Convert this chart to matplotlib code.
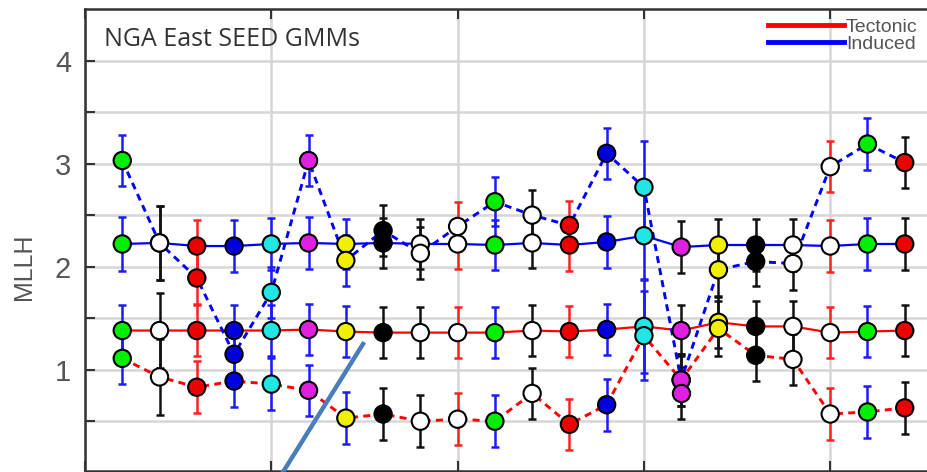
import numpy as np
import matplotlib
matplotlib.use('Agg')
import matplotlib.pyplot as plt
from matplotlib.lines import Line2D

# model index along the x axis
x = np.arange(1, 23)

# marker face colour and error bar colour of each model
face = ['g', 'w', 'r', 'b', 'c', 'm', 'y', 'k', 'w', 'w', 'g',
        'w', 'r', 'b', 'c', 'm', 'y', 'k', 'w', 'w', 'g', 'r']
ecol = ['b', 'k', 'r', 'b', 'b', 'b', 'b', 'k', 'k', 'r', 'b',
        'k', 'r', 'b', 'b', 'k', 'k', 'k', 'k', 'r', 'b', 'k']

# MLLH values (solid = mean, dashed = alternative)
tect_mean = [1.38, 1.38, 1.38, 1.38, 1.38, 1.39, 1.37, 1.36, 1.36, 1.36, 1.36,
             1.38, 1.37, 1.39, 1.42, 1.38, 1.46, 1.42, 1.42, 1.36, 1.37, 1.38]
ind_mean = [2.22, 2.23, 2.20, 2.20, 2.22, 2.23, 2.22, 2.23, 2.22, 2.22, 2.21,
            2.23, 2.21, 2.24, 2.30, 2.19, 2.21, 2.21, 2.21, 2.20, 2.22, 2.22]
tect_alt = [1.11, 0.93, 0.83, 0.89, 0.86, 0.80, 0.53, 0.57, 0.50, 0.52, 0.50,
            0.77, 0.47, 0.66, 1.33, 0.90, 1.40, 1.14, 1.10, 0.57, 0.59, 0.63]
ind_alt = [3.03, 2.23, 1.89, 1.15, 1.75, 3.03, 2.06, 2.35, 2.13, 2.39, 2.63,
           2.50, 2.40, 3.10, 2.77, 0.90, 1.97, 2.05, 2.03, 2.97, 3.19, 3.01]

# error bar half widths
tect_mean_err = [0.25, 0.36, 0.25, 0.25, 0.25, 0.25, 0.25, 0.25, 0.25, 0.25, 0.25,
                 0.25, 0.25, 0.25, 0.45, 0.25, 0.25, 0.25, 0.25, 0.25, 0.25, 0.25]
ind_mean_err = [0.26, 0.36, 0.25, 0.25, 0.25, 0.25, 0.24, 0.24, 0.24, 0.24, 0.24,
                0.24, 0.25, 0.25, 0.42, 0.25, 0.25, 0.25, 0.25, 0.25, 0.25, 0.25]
tect_alt_err = [0.25, 0.37, 0.25, 0.25, 0.25, 0.25, 0.25, 0.25, 0.25, 0.25, 0.25,
                0.25, 0.25, 0.25, 0.43, 0.25, 0.27, 0.25, 0.25, 0.25, 0.25, 0.25]
ind_alt_err = [0.25, 0.36, 0.25, 0.25, 0.25, 0.25, 0.25, 0.25, 0.25, 0.24, 0.24,
               0.24, 0.24, 0.25, 0.45, 0.25, 0.25, 0.24, 0.26, 0.25, 0.25, 0.25]

# single extra point without a line
extra_x = [16]
extra_y = [0.775]
extra_err = [0.25]

colors = {'g': '#00ee00', 'w': '#ffffff', 'r': '#ee0000', 'b': '#0000dd',
          'c': '#22e5e5', 'm': '#e020e0', 'y': '#f0f000', 'k': '#000000'}
bar_colors = {'b': '#1a1aff', 'k': '#111111', 'r': '#ff2020'}

fig = plt.figure(figsize=(9.28, 4.72), dpi=100)
ax = fig.add_axes([85 / 928, 1.3 / 472, 857 / 928, 461.7 / 472])

series = [(ind_mean, ind_mean_err, '#0000ff', '-'),
          (tect_mean, tect_mean_err, '#ff0000', '-'),
          (ind_alt, ind_alt_err, '#0000ff', (0, (2.4, 1.8))),
          (tect_alt, tect_alt_err, '#ff0000', (0, (2.4, 1.8)))]

for vals, errs, lc, ls in series:
    vals = np.array(vals)
    errs = np.array(errs)
    for c in bar_colors:
        idx = np.array([e == c for e in ecol])
        ax.errorbar(x[idx], vals[idx], yerr=errs[idx], fmt='none',
                    ecolor=bar_colors[c], elinewidth=1.8, capsize=3,
                    capthick=1.8, zorder=2)
    lw = 1.6 if ls == '-' else 2.1
    ax.plot(x, vals, color=lc, lw=lw, linestyle=ls, zorder=3)
    ax.scatter(x, vals, s=155, c=[colors[f] for f in face],
               edgecolors='black', linewidths=1.5, zorder=4)

ax.errorbar(extra_x, extra_y, yerr=extra_err, fmt='none', ecolor=bar_colors['k'],
            elinewidth=1.8, capsize=3, capthick=1.8, zorder=2)
ax.scatter(extra_x, extra_y, s=155, c=[colors[face[i - 1]] for i in extra_x],
           edgecolors='black', linewidths=1.5, zorder=4)

ax.set_xlim(0, 23)
ax.set_ylim(0.02, 4.5)
ax.set_xticks([0, 5, 10, 15, 20])
ax.set_xticklabels([])
yt = np.arange(0.5, 4.01, 0.5)
ax.set_yticks(yt)
ax.set_yticklabels([str(int(v)) if v == int(v) else '' for v in yt],
                   fontsize=21, color='#555555', family='Liberation Sans')
ax.tick_params(direction='in', length=7, width=1.5, color='#333333',
               top=True, right=True, pad=10)
ax.grid(True, color='#d6d6d6', lw=1.8)
ax.set_axisbelow(True)
for sp in ax.spines.values():
    sp.set_color('#333333')
    sp.set_linewidth(1.8)

fig.text(24 / 928, 1 - 267 / 472, 'MLLH', rotation=90, ha='center', va='center',
         fontsize=18, color='#555555', family='Liberation Sans')

fig.text(104 / 928, 1 - 46 / 472, 'NGA East SEED GMMs',
         fontsize=18, color='#333333', family='Open Sans')

handles = [Line2D([], [], color='#ff0000', lw=3.5),
           Line2D([], [], color='#0000ff', lw=3.5)]
leg = fig.legend(handles, ['Tectonic', 'Induced'], loc='upper left',
                 bbox_to_anchor=(768 / 928, 1 - 18 / 472), frameon=False,
                 prop={'family': 'Liberation Sans', 'size': 14},
                 handlelength=3.9, handletextpad=0.1, labelspacing=0.0,
                 borderpad=0, borderaxespad=0)
for t in leg.get_texts():
    t.set_color('#555555')

# annotation stroke crossing the lower part of the panel
fig.add_artist(Line2D([283 / 928, 363 / 928], [0, 1 - 344 / 472],
                      color='#4a7ebb', lw=3.2, transform=fig.transFigure))

fig.savefig('out.png', dpi=100)
